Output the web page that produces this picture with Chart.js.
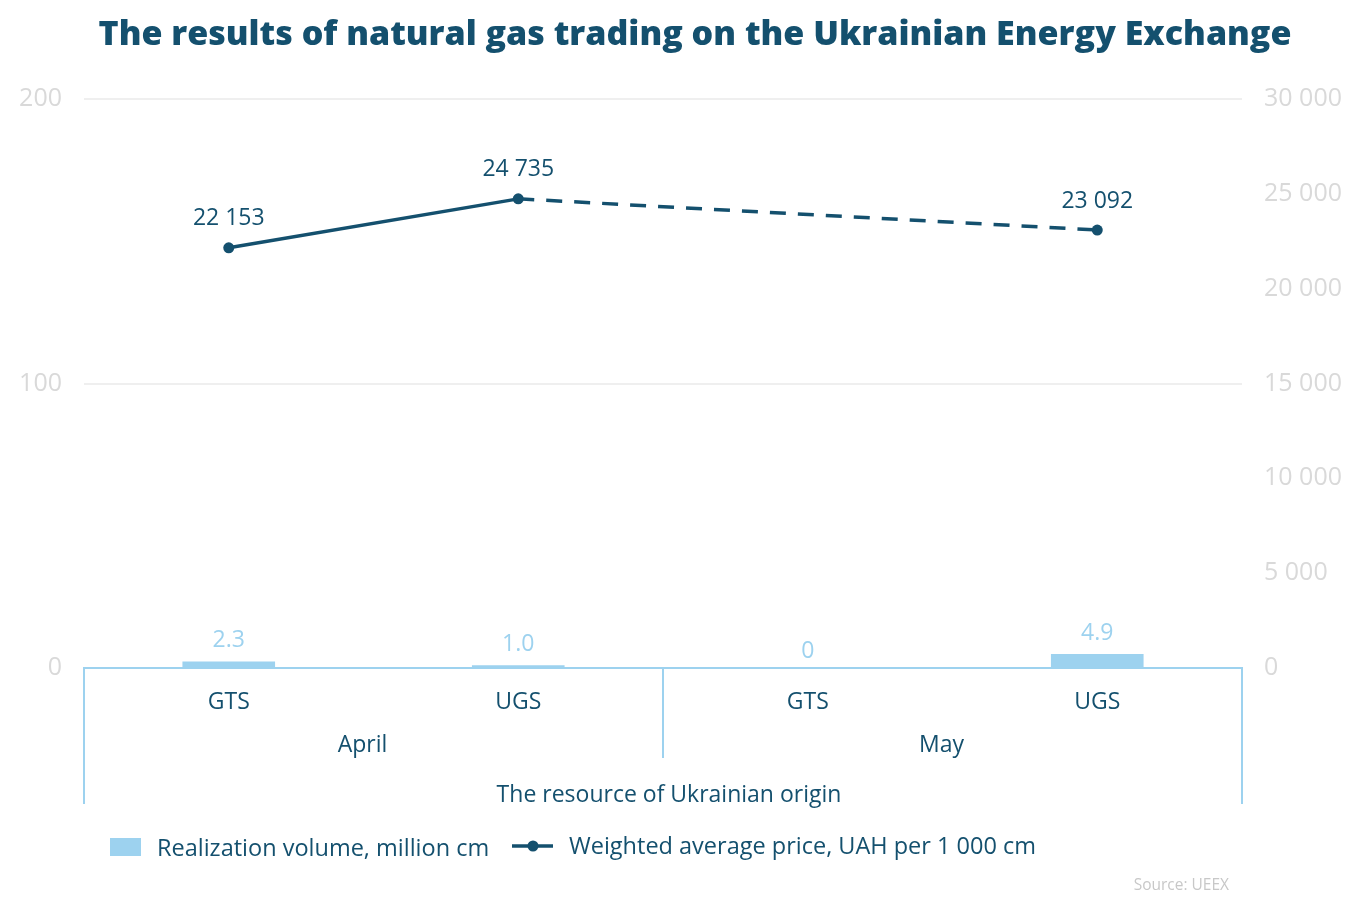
<!DOCTYPE html>
<html>
<head>
<meta charset="utf-8">
<script src="https://cdn.jsdelivr.net/npm/chart.js@4/dist/chart.umd.min.js"></script>
<style>
  html, body { margin: 0; padding: 0; background: #ffffff; }
  #wrap { width: 1351px; height: 904px; position: relative; }
</style>
</head>
<body>
<div id="wrap"><canvas id="c" width="1351" height="904"></canvas></div>
<script>
const titleText = 'The results of natural gas trading on the Ukrainian Energy Exchange';
const categories = ['GTS', 'UGS', 'GTS', 'UGS'];
const months = ['April', 'May'];
const groupTitle = 'The resource of Ukrainian origin';
const volumeName = 'Realization volume, million cm';
const priceName = 'Weighted average price, UAH per 1 000 cm';
const volume = [2.3, 1.0, 0, 4.9];
const price = [22153, 24735, null, 23092];
const sourceText = 'Source: UEEX';

const DARK = '#14506e';
const LIGHT = '#9dd2ef';
const TICK = '#d9d9d9';
const FONT = '"Open Sans", Lato, sans-serif';

function fmtThousands(v) {
  return String(v).replace(/\B(?=(\d{3})+(?!\d))/g, ' ');
}
function fmtVolume(v) {
  return v === 0 ? '0' : v.toFixed(1);
}

const decorPlugin = {
  id: 'decor',
  beforeDraw(chart) {
    const ctx = chart.ctx;
    ctx.save();
    ctx.fillStyle = DARK;
    ctx.textAlign = 'center';
    ctx.textBaseline = 'middle';
    ctx.font = '800 34px ' + FONT;
    ctx.fillText(titleText, 695, 35);
    ctx.restore();
  },
  afterDatasetsDraw(chart) {
    const ctx = chart.ctx;
    ctx.save();
    ctx.textAlign = 'center';
    ctx.textBaseline = 'middle';
    const barMeta = chart.getDatasetMeta(0);
    ctx.font = '23px ' + FONT;
    ctx.fillStyle = LIGHT;
    barMeta.data.forEach((el, i) => {
      const off = volume[i] === 0 ? 17 : 21;
      ctx.fillText(fmtVolume(volume[i]), el.x, el.y - off);
    });
    const lineMeta = chart.getDatasetMeta(1);
    ctx.fillStyle = DARK;
    lineMeta.data.forEach((el, i) => {
      if (price[i] === null) return;
      ctx.fillText(fmtThousands(price[i]), el.x, el.y - 29);
    });
    ctx.restore();
  },
  afterDraw(chart) {
    const ctx = chart.ctx;
    const a = chart.chartArea;
    const xs = chart.scales.x;
    ctx.save();
    ctx.strokeStyle = LIGHT;
    ctx.lineWidth = 2;
    const half = (xs.getPixelForValue(1) - xs.getPixelForValue(0)) / 2;
    const midX = xs.getPixelForValue(1) + half;
    ctx.beginPath();
    ctx.moveTo(a.left, a.bottom); ctx.lineTo(a.left, a.bottom + 136);
    ctx.moveTo(a.right, a.bottom); ctx.lineTo(a.right, a.bottom + 136);
    ctx.moveTo(midX, a.bottom); ctx.lineTo(midX, a.bottom + 90);
    ctx.stroke();
    ctx.fillStyle = DARK;
    ctx.textAlign = 'center';
    ctx.textBaseline = 'middle';
    ctx.font = '23px ' + FONT;
    const m0 = (xs.getPixelForValue(0) + xs.getPixelForValue(1)) / 2 - 11;
    const m1 = (xs.getPixelForValue(2) + xs.getPixelForValue(3)) / 2 - 11;
    ctx.fillText(months[0], m0, a.bottom + 77);
    ctx.fillText(months[1], m1, a.bottom + 77);
    ctx.fillText(groupTitle, (a.left + a.right) / 2 + 6, a.bottom + 127);

    const ly = 847;
    ctx.fillStyle = LIGHT;
    ctx.fillRect(110, ly - 9, 31, 18);
    ctx.fillStyle = DARK;
    ctx.textAlign = 'left';
    ctx.font = '23.5px ' + FONT;
    ctx.fillText(volumeName, 157, ly + 2);
    ctx.strokeStyle = DARK;
    ctx.lineWidth = 3.5;
    ctx.beginPath();
    ctx.moveTo(512, ly - 1); ctx.lineTo(553, ly - 1);
    ctx.stroke();
    ctx.beginPath();
    ctx.arc(533, ly - 1, 5.5, 0, Math.PI * 2);
    ctx.fill();
    ctx.fillText(priceName, 569, ly);

    ctx.fillStyle = '#c8c8c8';
    ctx.font = '15.5px ' + FONT;
    ctx.textAlign = 'right';
    ctx.fillText(sourceText, 1229, 886);
    ctx.restore();
  }
};

new Chart(document.getElementById('c'), {
  data: {
    labels: categories,
    datasets: [
      {
        type: 'bar',
        label: volumeName,
        data: volume,
        yAxisID: 'y',
        backgroundColor: LIGHT,
        barPercentage: 0.32,
        categoryPercentage: 1.0,
        order: 2
      },
      {
        type: 'line',
        label: priceName,
        data: price,
        yAxisID: 'y1',
        borderColor: DARK,
        backgroundColor: DARK,
        borderWidth: 3.5,
        pointRadius: 5.5,
        pointBackgroundColor: DARK,
        pointBorderWidth: 0,
        spanGaps: true,
        tension: 0,
        segment: {
          borderDash: c => (price[c.p0DataIndex] === null || price[c.p1DataIndex] === null ? [16, 12] : undefined)
        },
        order: 1
      }
    ]
  },
  options: {
    responsive: false,
    animation: false,
    layout: { padding: { top: 99, left: 0, right: 0, bottom: 0 } },
    plugins: {
      legend: { display: false },
      tooltip: { enabled: false },
      title: { display: false }
    },
    scales: {
      x: {
        grid: { display: false },
        border: { display: true, color: LIGHT, width: 2 },
        ticks: { color: DARK, font: { family: FONT, size: 23 }, padding: 13 },
        afterFit: s => { s.height = 236; }
      },
      y: {
        position: 'left',
        min: 0, max: 200,
        ticks: { stepSize: 100, color: TICK, font: { family: FONT, size: 25 }, padding: 22 },
        grid: { color: '#efefef', lineWidth: 2, drawTicks: false },
        border: { display: false },
        afterFit: s => { s.width = 84; }
      },
      y1: {
        position: 'right',
        min: 0, max: 30000,
        ticks: { stepSize: 5000, color: TICK, font: { family: FONT, size: 25 }, padding: 22,
                 callback: v => fmtThousands(v) },
        grid: { display: false, drawTicks: false },
        border: { display: false },
        afterFit: s => { s.width = 109; }
      }
    }
  },
  plugins: [decorPlugin]
});
</script>
</body>
</html>
